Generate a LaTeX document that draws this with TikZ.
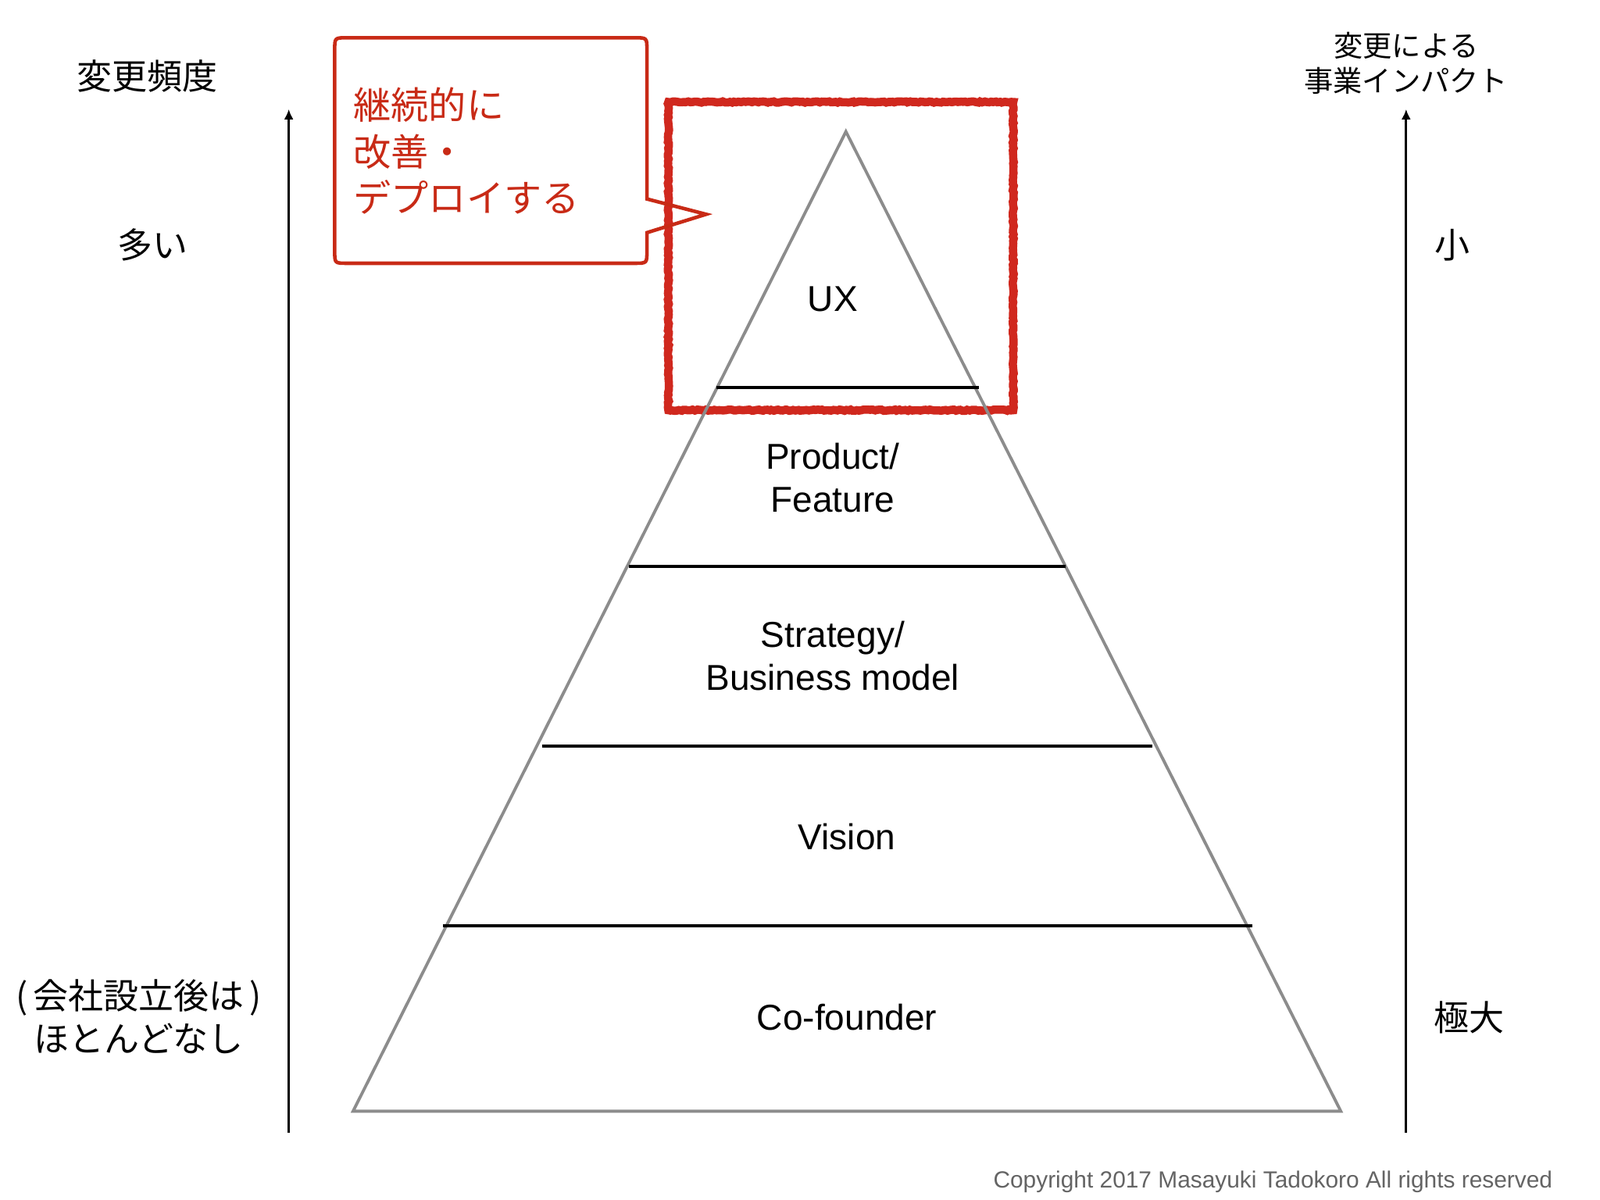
\documentclass[tikz,border=0pt]{standalone}
\usepackage{fontspec}
\setmainfont{Liberation Sans}
\newfontfamily\jpfont{Noto Sans CJK JP}
\usepackage{tikz}
\usetikzlibrary{calc,positioning,shapes}
\usetikzlibrary{decorations.pathmorphing}
\usetikzlibrary{arrows.meta}
\tikzset{>={Latex[width=3.4pt,length=3.7pt]}}
\definecolor{boxred}{RGB}{208,40,30}
\definecolor{callred}{RGB}{200,42,22}
\definecolor{pyrgray}{RGB}{140,140,140}
\definecolor{copygray}{RGB}{100,100,100}

\begin{document}
\begin{tikzpicture}[x=0.013061cm, y=-0.013061cm]
      %%%%%%%%%%%%%%%%%%%%%%%%%%%%%%%%%%%%%%%%%%%%%%%%%%
      %% layers of a startup
      %%%%%%%%%%%%%%%%%%%%%%%%%%%%%%%%%%%%%%%%%%%%%%%%%%
      \tikzstyle{lnode} = [inner sep = 0pt, align=center, font=\fontsize{13.1pt}{15.6pt}\selectfont]
      \tikzstyle{jnode} = [inner sep = 0pt, align=center, font=\jpfont\fontsize{12.8pt}{15.6pt}\selectfont]
      \tikzstyle{axis} = [->, line width=0.9pt]
      \tikzstyle{pyramid} = [draw=pyrgray, line width=1.1pt, line join=miter]
      \tikzstyle{sepline} = [line width=1.1pt]
      \tikzstyle{uxbox} = [draw=boxred, line width=3pt, decorate, decoration={random steps, segment length=0.8pt, amplitude=0.22pt}]
      \tikzstyle{callout} = [draw=callred, line width=1.3pt, line join=miter]
      \useasboundingbox (0,0) rectangle (1568,1176);

      % axes
      \coordinate (lbot) at (283,1110);
      \coordinate (ltop) at (283,107);
      \coordinate (rbot) at (1378,1110);
      \coordinate (rtop) at (1378,107);
      \draw[axis] (lbot) -- (ltop);
      \draw[axis] (rbot) -- (rtop);

      % focus box round the top layer
      \draw[uxbox] (655,100) rectangle (993,402);

      % pyramid
      \coordinate (apex) at (829,129);
      \coordinate (bl) at (346,1089);
      \coordinate (br) at (1314,1089);
      \draw[pyramid] (apex) -- (bl) -- (br) -- cycle;
      \foreach \y/\xl/\xr in {380/702/959, 555/616/1044, 731/531/1129, 907/434/1227}
        \draw[sepline] (\xl,\y) -- (\xr,\y);

      \node[lnode] (ux) at (816,293) {UX};
      \node[lnode] (product) at (816,468) {Product/\\Feature};
      \node[lnode] (strategy) at (816,643) {Strategy/\\Business model};
      \node[lnode] (vision) at (830,820) {Vision};
      \node[lnode] (cofounder) at (830,997) {Co-founder};

      % left side
      \node[jnode] (freq) at (144,75) {変更頻度};
      \node[jnode] (many) at (150,240) {多い};
      \node[jnode] (rare) at (136,996) {(\kern2pt 会社設立後は\kern2pt)\\ほとんどなし};

      % right side
      \node[jnode, font=\jpfont\fontsize{10.6pt}{13pt}\selectfont] (impact) at (1378,62) {変更による\\事業インパクト};
      \node[jnode] (small) at (1423,240) {小};
      \node[jnode] (huge) at (1440,997) {極大};

      % speech bubble
      \draw[callout] (480,37) -- (622,37) .. controls (634,37) .. (634,49) -- (634,195) -- (692,210) -- (634,228)
        -- (634,246) .. controls (634,258) .. (622,258) -- (340,258) .. controls (328,258) .. (328,246)
        -- (328,49) .. controls (328,37) .. (340,37) -- cycle;
      \node[jnode, anchor=west, align=left, text=callred, font=\jpfont\fontsize{13.7pt}{16.9pt}\selectfont] (kaizen) at (346,148) {継続的に\\改善・\\デプロイする};

      \node[inner sep=0pt, anchor=east, text=copygray, font=\fontsize{8.5pt}{10pt}\selectfont] (copy) at (1522,1158) {Copyright 2017 Masayuki Tadokoro All rights reserved};
\end{tikzpicture}
\end{document}
